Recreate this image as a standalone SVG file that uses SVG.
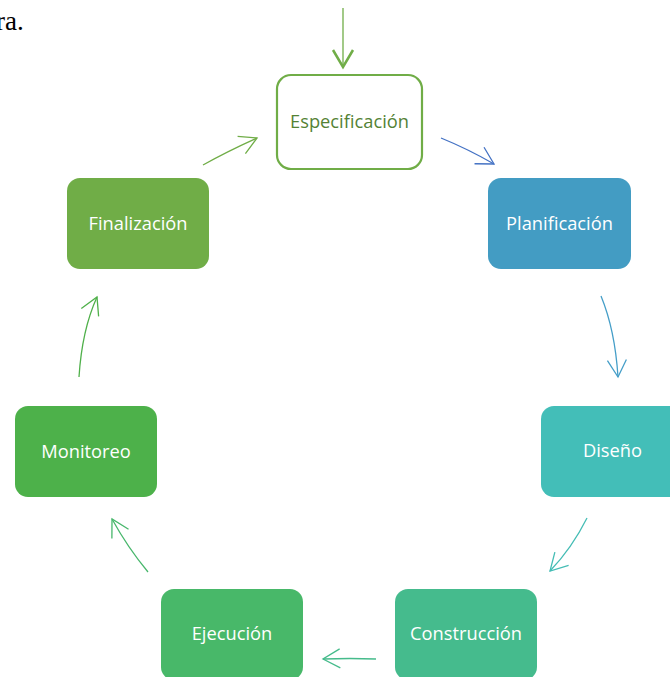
<svg xmlns="http://www.w3.org/2000/svg" width="670" height="677" viewBox="0 0 670 677">
<style>
.lbl{font-family:"Open Sans","Noto Sans",sans-serif;font-size:18.3px;text-anchor:middle;fill:#ffffff}
.box{stroke:none}
.con{fill:none;stroke-width:1.3}
</style>
<defs>
<marker id="ah" markerUnits="userSpaceOnUse" markerWidth="24" markerHeight="24" viewBox="-20 -12 24 24" refX="0" refY="0" orient="auto" overflow="visible">
<path d="M-17,-9.5 L0,0 L-17,9.5" fill="none" stroke="context-stroke" stroke-width="1.3"/>
</marker>
<marker id="ahb" markerUnits="userSpaceOnUse" markerWidth="24" markerHeight="24" viewBox="-20 -12 24 24" refX="0" refY="0" orient="auto" overflow="visible">
<path d="M-17,-10 L0,0 L-17,10" fill="none" stroke="#70AD47" stroke-width="2.5"/>
</marker>
</defs>
<rect width="670" height="677" fill="#ffffff"/>
<text x="-4" y="30" font-family="Liberation Serif, serif" font-size="27" fill="#000000">ra.</text>
<g id="connectors">
<path class="con" d="M343,8 L343,67" stroke="#70AD47" stroke-width="2.5" marker-end="url(#ahb)"/>
<path class="con" d="M441,138 Q468,149 494,164" stroke="#4472C4" marker-end="url(#ah)"/>
<path class="con" d="M601,296 Q615,330 618,377" stroke="#459EC8" marker-end="url(#ah)"/>
<path class="con" d="M587,518 Q572,548 550,571" stroke="#45BDB5" marker-end="url(#ah)"/>
<path class="con" d="M376,659 Q350,658 323,659" stroke="#45BB8B" marker-end="url(#ah)"/>
<path class="con" d="M148,572 Q128,548 112,519" stroke="#48B76C" marker-end="url(#ah)"/>
<path class="con" d="M79,377 Q82,330 97,297" stroke="#4FB04A" marker-end="url(#ah)"/>
<path class="con" d="M203,165 Q226,152 257,138" stroke="#70AD47" marker-end="url(#ah)"/>
</g>
<g id="especificacion">
<rect x="277" y="75" width="145" height="94" rx="14" fill="#ffffff" stroke="#70AD47" stroke-width="2.2"/>
<text class="lbl" x="349.5" y="128" style="fill:#548235">Especificación</text>
</g>
<g id="planificacion">
<rect class="box" x="488" y="178" width="143" height="91" rx="13" fill="#439CC3"/>
<text class="lbl" x="559.5" y="230">Planificación</text>
</g>
<g id="diseno">
<rect class="box" x="541" y="406" width="143" height="91" rx="13" fill="#43BEB8"/>
<text class="lbl" x="612.5" y="457">Diseño</text>
</g>
<g id="construccion">
<rect class="box" x="395" y="589" width="142" height="91" rx="13" fill="#45BB8D"/>
<text class="lbl" x="466" y="640">Construcción</text>
</g>
<g id="ejecucion">
<rect class="box" x="161" y="589" width="142" height="91" rx="13" fill="#48B869"/>
<text class="lbl" x="232" y="640">Ejecución</text>
</g>
<g id="monitoreo">
<rect class="box" x="15" y="406" width="142" height="91" rx="13" fill="#4DB14A"/>
<text class="lbl" x="86" y="458">Monitoreo</text>
</g>
<g id="finalizacion">
<rect class="box" x="67" y="178" width="142" height="91" rx="13" fill="#70AD47"/>
<text class="lbl" x="138" y="230">Finalización</text>
</g>
</svg>
